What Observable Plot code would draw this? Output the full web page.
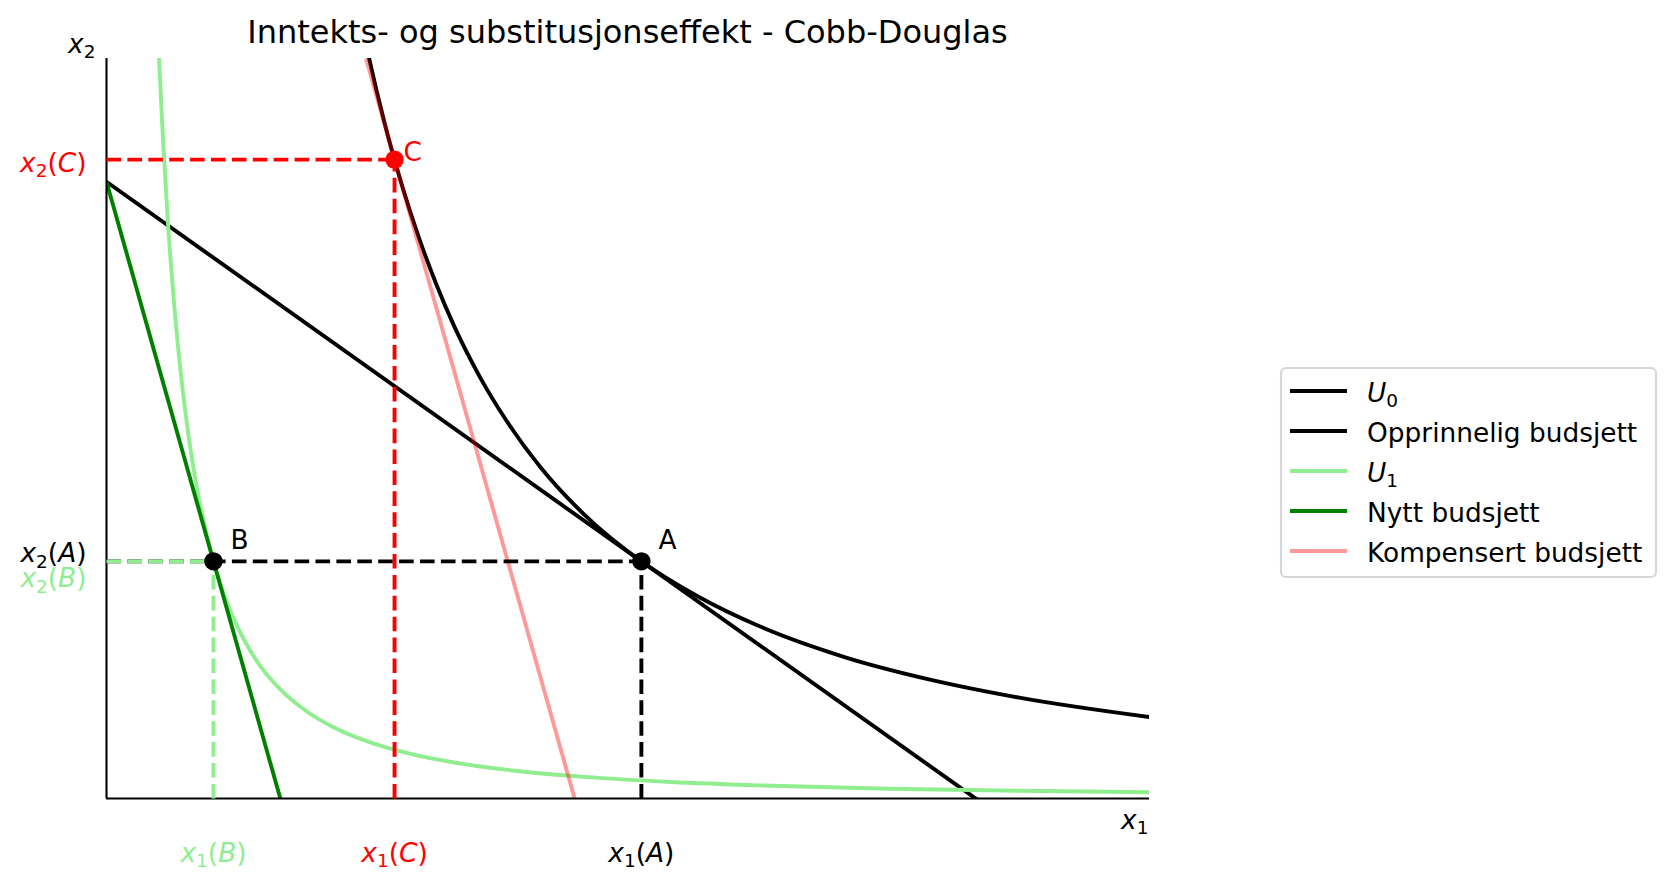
<!DOCTYPE html>
<html>
<head>
<meta charset="utf-8">
<script src="https://cdn.jsdelivr.net/npm/d3@7"></script>
<script src="https://cdn.jsdelivr.net/npm/@observablehq/plot@0.6"></script>
<style>
  html, body { margin: 0; padding: 0; background: #fff; }
  #chart { position: relative; width: 1674px; height: 885px; }
  svg { font-family: "DejaVu Sans", sans-serif; }
</style>
</head>
<body>
<div id="chart"></div>
<script>
// ---------------- data ----------------
const titleText = "Inntekts- og substitusjonseffekt - Cobb-Douglas";

// Indifference curve U0 (through A and C)
const u0X = [28, 30, 32, 34, 36, 38, 40, 43, 46, 50, 55, 61.54, 68, 75, 85, 95, 105, 120];
const u0Y = [135.6, 121.4, 109.5, 99.4, 90.7, 83.2, 76.6, 68.25, 61.3, 53.6, 46.0, 38.46, 32.8, 28.0, 22.9, 19.2, 16.36, 13.21];

// Indifference curve U1 (through B)
const u1X = [5.5, 6, 7, 8, 9, 10, 11, 12.31, 14, 16, 18, 20, 23, 26, 30, 35, 40, 47, 55, 65, 75, 90, 105, 120];
const u1Y = [139.6, 121.5, 94.9, 76.7, 63.5, 53.6, 46.1, 38.46, 31.3, 25.3, 20.9, 17.7, 14.15, 11.63, 9.25, 7.23, 5.84, 4.51, 3.51, 2.68, 2.13, 1.59, 1.25, 1.007];

// Budget lines (end points)
const budgetOldX = [0, 120];
const budgetOldY = [100, -20];
const budgetNewX = [0, 24];
const budgetNewY = [100, -20];
const budgetCompX = [29.86, 53.86];
const budgetCompY = [120, 0];

// Optimal bundles
const pointNames = ["A", "B", "C"];
const pointX = [61.54, 12.31, 33.14];
const pointY = [38.46, 38.46, 103.6];

// Tick labels
const xTickValues = [12.31, 33.14, 61.54];
const xTickLabels = ["x_1(B)", "x_1(C)", "x_1(A)"];
const yTickValues = [103.6, 38.46, 38.46];
const yTickLabels = ["x_2(C)", "x_2(A)", "x_2(B)"];

// Legend entries
const legendLabels = ["U_0", "Opprinnelig budsjett", "U_1", "Nytt budsjett", "Kompensert budsjett"];

// ---------------- styles ----------------
const LW = 3.9;
const DASH = "14.6,6.3";
const FS = 26.4;
const xTickColors = ["lightgreen", "red", "black"];
const yTickColors = ["red", "black", "lightgreen"];
const yTickDy = [12, 1, 26];
const pointColors = ["black", "black", "red"];
const legendColors = ["black", "black", "lightgreen", "green", "red"];
const legendOpacity = [1, 1, 1, 1, 0.4];

// ---------------- build ----------------
const pts = (xs, ys) => xs.map((x, i) => ({x, y: ys[i]}));
const points = pointNames.map((n, i) => ({name: n, x: pointX[i], y: pointY[i], color: pointColors[i]}));
const [pA, pB, pC] = points;
const xTicks = xTickValues.map((v, i) => ({x: v, y: 0, label: xTickLabels[i], color: xTickColors[i]}));
const yTicks = yTickValues.map((v, i) => ({x: 0, y: v, label: yTickLabels[i], color: yTickColors[i]}));

const solid = (data, stroke, extra = {}) =>
  Plot.line(data, {x: "x", y: "y", stroke, strokeWidth: LW, clip: true, strokeLinecap: "butt", ...extra});
const dashed = (data, stroke) =>
  Plot.line(data, {x: "x", y: "y", stroke, strokeWidth: LW, strokeDasharray: DASH, strokeLinecap: "butt"});

const marks = [
  solid(pts(u0X, u0Y), "black", {curve: "monotone-x"}),
  solid(pts(budgetOldX, budgetOldY), "black"),
  solid(pts(u1X, u1Y), "lightgreen", {curve: "monotone-x"}),
  solid(pts(budgetNewX, budgetNewY), "green"),
  solid(pts(budgetCompX, budgetCompY), "red", {strokeOpacity: 0.4}),
  Plot.ruleX([0], {y1: 0, y2: 120, stroke: "black", strokeWidth: 2.1}),
  Plot.ruleY([0], {x1: 0, x2: 120, stroke: "black", strokeWidth: 2.1}),
  dashed([{x: 0, y: pA.y}, {x: pA.x, y: pA.y}], "black"),
  dashed([{x: pA.x, y: 0}, {x: pA.x, y: pA.y}], "black"),
  dashed([{x: 0, y: pB.y}, {x: pB.x, y: pB.y}], "lightgreen"),
  dashed([{x: pB.x, y: 0}, {x: pB.x, y: pB.y}], "lightgreen"),
  dashed([{x: 0, y: pC.y}, {x: pC.x, y: pC.y}], "red"),
  dashed([{x: pC.x, y: 0}, {x: pC.x, y: pC.y}], "red"),
  Plot.dot(points, {x: "x", y: "y", r: 9.2, fill: "color", stroke: null}),
  Plot.text([pA, pB], {x: "x", y: "y", text: "name", fill: "color", fontSize: FS, textAnchor: "start", lineAnchor: "bottom", dx: 17, dy: -12}),
  Plot.text([pC], {x: "x", y: "y", text: "name", fill: "color", fontSize: FS, textAnchor: "start", lineAnchor: "bottom", dx: 9, dy: 1.5}),
  Plot.text(xTicks, {x: "x", y: "y", text: "label", fill: "color", fontSize: FS, textAnchor: "middle", lineAnchor: "bottom", dy: 63}),
  ...yTicks.map((t, i) => Plot.text([t], {x: "x", y: "y", text: "label", fill: "color", fontSize: FS, textAnchor: "end", lineAnchor: "bottom", dx: -20, dy: yTickDy[i]})),
  Plot.text([{x: 0, y: 120, label: "x_2"}], {x: "x", y: "y", text: "label", fill: "black", fontSize: FS, textAnchor: "end", lineAnchor: "bottom", dx: -11, dy: -6}),
  Plot.text([{x: 120, y: 0, label: "x_1"}], {x: "x", y: "y", text: "label", fill: "black", fontSize: FS, textAnchor: "end", lineAnchor: "bottom", dx: -1, dy: 30})
];

const svg = Plot.plot({
  width: 1674,
  height: 885,
  marginLeft: 106,
  marginRight: 525,
  marginTop: 58,
  marginBottom: 87,
  x: {domain: [0, 120], axis: null},
  y: {domain: [0, 120], axis: null},
  color: {type: "identity"},
  style: {fontFamily: "'DejaVu Sans', sans-serif", background: "white", overflow: "visible"},
  marks
});
document.getElementById("chart").appendChild(svg);

// ---- math-style labels: italic symbol + subscript ----
function mathify(el, fs) {
  const s = el.textContent;
  const m = /^([A-Za-z])_(\w)(.*)$/.exec(s);
  if (!m) return;
  const sel = d3.select(el);
  sel.text(null);
  sel.append("tspan").attr("font-style", "italic").text(m[1]);
  sel.append("tspan").attr("font-size", (fs * 0.7) + "px").attr("dy", (fs * 0.2) + "px").text(m[2]);
  let first = true;
  for (const ch of m[3]) {
    const t = sel.append("tspan").text(ch);
    if (/[A-Za-z]/.test(ch)) t.attr("font-style", "italic");
    if (first) { t.attr("dy", (-fs * 0.2) + "px"); first = false; }
  }
}
d3.select(svg).selectAll("text").each(function() { mathify(this, FS); });

// ---- title ----
const root = d3.select(svg);
root.append("text")
  .attr("x", (106 + 1149) / 2).attr("y", 42.7)
  .attr("text-anchor", "middle")
  .attr("font-size", 32)
  .attr("fill", "black")
  .text(titleText);

// ---- legend ----
const lg = root.append("g").attr("text-anchor", "start");
lg.append("rect")
  .attr("x", 1281).attr("y", 368).attr("width", 375).attr("height", 209)
  .attr("rx", 5).attr("fill", "white").attr("stroke", "#d6d6d6").attr("stroke-width", 2.1);
legendLabels.forEach((lab, i) => {
  const cy = 391 + i * 40;
  lg.append("line")
    .attr("x1", 1290).attr("x2", 1347).attr("y1", cy).attr("y2", cy)
    .attr("stroke", legendColors[i]).attr("stroke-opacity", legendOpacity[i])
    .attr("stroke-width", LW);
  const t = lg.append("text")
    .attr("x", 1367).attr("y", cy + 11)
    .attr("text-anchor", "start")
    .attr("font-size", FS).attr("fill", "black")
    .text(lab);
  mathify(t.node(), FS);
});
</script>
</body>
</html>
